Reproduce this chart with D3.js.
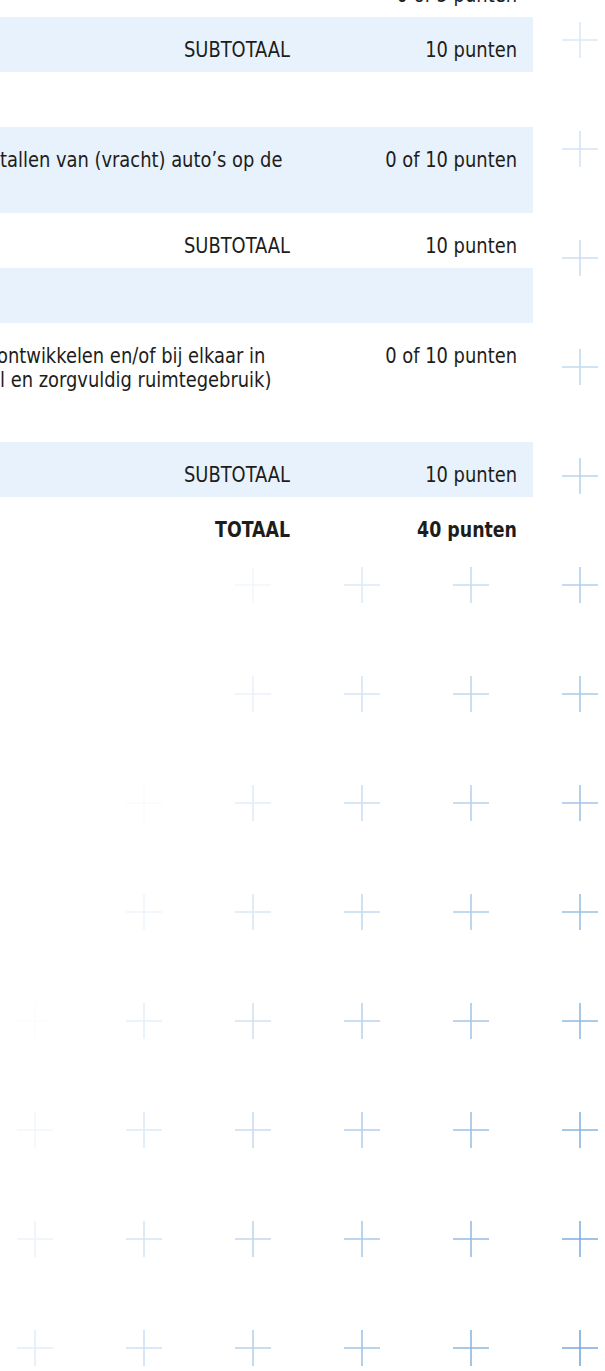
<!DOCTYPE html>
<html>
<head>
<meta charset="utf-8">
<script src="https://cdn.jsdelivr.net/npm/d3@7"></script>
<style>
  html, body { margin: 0; padding: 0; background: #ffffff; }
  svg { display: block; }
</style>
</head>
<body>
<svg id="chart" width="605" height="1371"></svg>
<script>
// ---------------- DATA ----------------
const rowKinds = ["item", "subtotal", "header", "item", "subtotal", "header", "item", "subtotal", "total"];
const rowDescriptions = [
  [],
  [],
  [],
  ["tallen van (vracht) auto\u2019s op de"],
  [],
  [],
  ["ontwikkelen en/of bij elkaar in", "l en zorgvuldig ruimtegebruik)"],
  [],
  []
];
const rowLabels = ["", "SUBTOTAAL", "", "", "SUBTOTAAL", "", "", "SUBTOTAAL", "TOTAAL"];
const pointsMin = [0, null, null, 0, null, null, 0, null, null];
const pointsMax = [5, 10, null, 10, 10, null, 10, 10, 40];
const unit = "punten";

// decorative cross grid (column / row indices)
const crossCols = [0, 1, 2, 3, 4, 5];
const crossRows = d3.range(0, 13);

// ---------------- LAYOUT ----------------
const W = 605, H = 1371;
const FONT = "'DejaVu Sans Condensed', 'DejaVu Sans', sans-serif";
const rowHeights = [55, 55, 55, 86, 55, 55, 119, 55, 55];
const tableTop = -38;
const tableRight = 533;
const pointsRight = 517;
const labelRight = 290;
const baselineOffset = 40;
const lineHeight = 24;
const FS = 21;

const svg = d3.select("#chart");

function measure(txt, weight) {
  const t = svg.append("text")
    .attr("font-family", FONT)
    .attr("font-size", FS)
    .attr("font-weight", weight)
    .style("font-stretch", "condensed")
    .text(txt);
  const w = t.node().getComputedTextLength();
  t.remove();
  return w;
}
// horizontal compression so that the tall font keeps the narrow widths of the reference
const sxReg = (108 + 130) / (measure("SUBTOTAAL", 400) + measure("0 of 10 punten", 400));
const sxBold = (75 + 100) / (measure("TOTAAL", 700) + measure("40 punten", 700));

// ---------------- CROSSES ----------------
const xCross = d3.scaleLinear().domain([0, 1]).range([580, 471]);
const yCross = d3.scaleLinear().domain([0, 1]).range([40, 149]);
const opacityOf = (x, y) => Math.max(0, Math.min(1, 0.0011 * x + 0.00043 * y - 0.4675));
const arm = 18;

const crosses = [];
crossRows.forEach(r => crossCols.forEach(c => crosses.push({ x: xCross(c), y: yCross(r) })));

const cg = svg.append("g").attr("class", "crosses");
const cross = cg.selectAll("g").data(crosses).join("g")
  .attr("opacity", d => opacityOf(d.x, d.y));
cross.append("line")
  .attr("x1", d => d.x - arm).attr("x2", d => d.x + arm)
  .attr("y1", d => d.y).attr("y2", d => d.y)
  .attr("stroke", "#4a8fd0").attr("stroke-width", 1.6);
cross.append("line")
  .attr("x1", d => d.x).attr("x2", d => d.x)
  .attr("y1", d => d.y - arm).attr("y2", d => d.y + arm)
  .attr("stroke", "#4a8fd0").attr("stroke-width", 1.6);

// ---------------- TABLE ----------------
const tops = [tableTop];
rowHeights.forEach((h, i) => tops.push(tops[i] + h));
const tableBottom = tops[tops.length - 1];

const yRow = d3.scaleOrdinal().domain(d3.range(rowKinds.length)).range(tops.slice(0, -1));

svg.append("rect")
  .attr("x", 0).attr("y", 0)
  .attr("width", tableRight).attr("height", tableBottom)
  .attr("fill", "#ffffff");

const rows = rowKinds.map((k, i) => ({
  i, kind: k, desc: rowDescriptions[i], label: rowLabels[i],
  min: pointsMin[i], max: pointsMax[i]
}));

const rg = svg.append("g").attr("class", "rows")
  .selectAll("g").data(rows).join("g")
  .attr("transform", d => `translate(0,${yRow(d.i)})`);

rg.filter(d => d.i % 2 === 1).append("rect")
  .attr("x", 0).attr("y", 0)
  .attr("width", tableRight)
  .attr("height", d => rowHeights[d.i])
  .attr("fill", "#e8f2fc");

const textCol = "#1d1d1b";

function styleText(sel, bold) {
  return sel.attr("font-family", FONT)
    .style("font-stretch", "condensed")
    .attr("font-size", FS)
    .attr("font-weight", bold ? 700 : 400)
    .attr("fill", textCol);
}

// descriptions
rg.each(function (d) {
  const g = d3.select(this);
  d.desc.forEach((line, li) => {
    const x = li === 0 && d.i === 6 ? -3 : 0;
    styleText(g.append("text"), false)
      .attr("transform", `translate(${x},${baselineOffset + li * lineHeight}) scale(${sxReg},1)`)
      .text(line);
  });
});

// labels
styleText(rg.filter(d => d.label).append("text"), false)
  .attr("font-weight", d => d.kind === "total" ? 700 : 400)
  .attr("text-anchor", "end")
  .attr("transform", d => `translate(${labelRight},${baselineOffset}) scale(${d.kind === "total" ? sxBold : sxReg},1)`)
  .text(d => d.label);

// points
styleText(rg.filter(d => d.max !== null).append("text"), false)
  .attr("font-weight", d => d.kind === "total" ? 700 : 400)
  .attr("text-anchor", "end")
  .attr("transform", d => `translate(${pointsRight},${baselineOffset}) scale(${d.kind === "total" ? sxBold : sxReg},1)`)
  .text(d => d.min !== null ? `${d.min} of ${d.max} ${unit}` : `${d.max} ${unit}`);
</script>
</body>
</html>
